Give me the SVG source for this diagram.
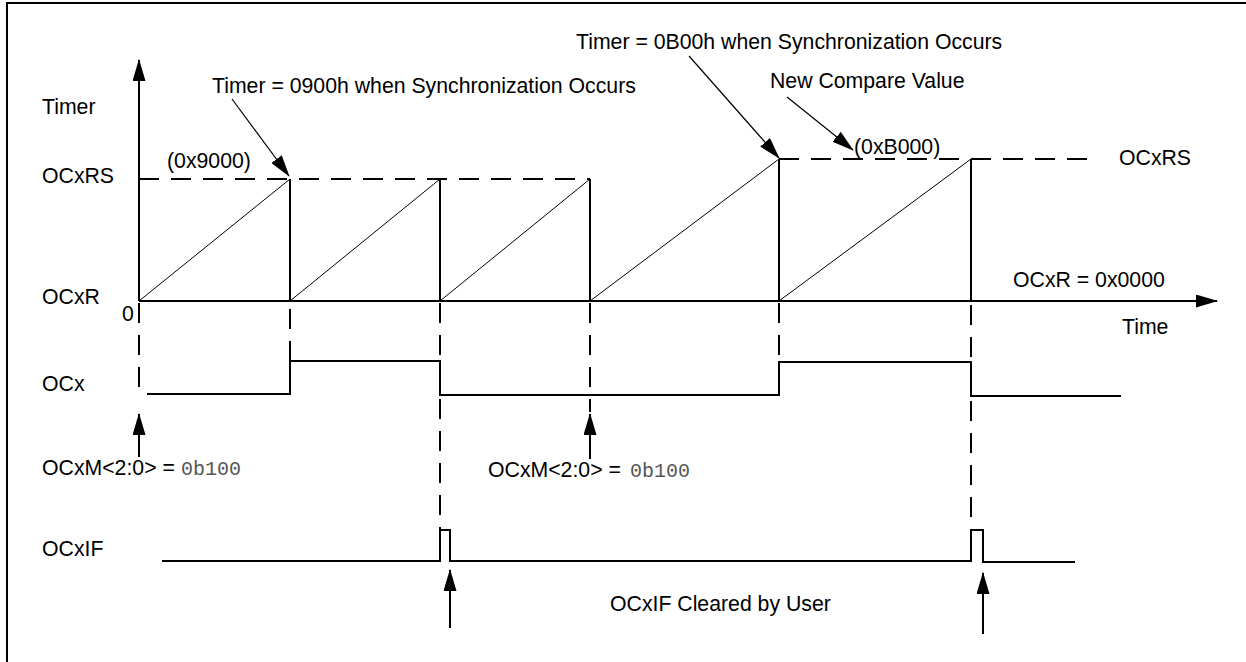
<svg xmlns="http://www.w3.org/2000/svg" width="1246" height="662" viewBox="0 0 1246 662">
<style>
text{font-family:"Liberation Sans",Arial,sans-serif;font-size:21.25px;fill:#000}
.mono{font-family:"Liberation Mono","Courier New",monospace;font-size:20px;fill:#555}
.thick{stroke:#000;stroke-width:2;fill:none}
.thin{stroke:#000;stroke-width:1;fill:none}
.dash{stroke:#000;stroke-width:2;fill:none;stroke-dasharray:20 12}
.arr{stroke:#000;stroke-width:1.2;fill:none;marker-end:url(#ah)}
.arr2{stroke:#000;stroke-width:2;fill:none;marker-end:url(#ah)}
</style>
<defs>
<marker id="ah" markerUnits="userSpaceOnUse" viewBox="0 0 22 13" refX="21" refY="6.5" markerWidth="22" markerHeight="13" orient="auto">
<path d="M0,0 L22,6.5 L0,13 z" fill="#000"/>
</marker>
</defs>
<rect width="1246" height="662" fill="#fff"/>
<g id="frame"><path class="thick" d="M7,662 V3 H1246" stroke-width="2.5"/></g>

<g id="axes">
<line class="arr2" x1="139" y1="301" x2="139" y2="60"/>
<line class="arr2" x1="139" y1="301" x2="1217" y2="301"/>
</g>

<g id="levels">
<path class="dash" d="M139,179 H590"/>
<path class="dash" d="M779,159 H1092"/>
</g>

<g id="timer-ramp">
<path class="thin" d="M139,301 L290,179 M290,301 L440,179 M440,301 L590,179 M590,301 L779,159 M779,301 L971,159"/>
<path class="thick" d="M290,179 V301 M440,179 V301 M590,179 V301 M779,159 V301 M971,159 V301"/>
</g>

<g id="connectors">
<path class="dash" d="M139,303 V390"/>
<path class="dash" d="M290,303 V361" stroke-dashoffset="-6"/>
<path class="dash" d="M440,303 V530"/>
<path class="dash" d="M590,303 V412"/>
<path class="dash" d="M779,303 V362"/>
<path class="dash" d="M971,303 V530" stroke-dashoffset="-2"/>
<line class="arr2" x1="139" y1="457" x2="139" y2="414"/>
<line class="arr2" x1="590" y1="459" x2="590" y2="414"/>
<line class="arr2" x1="450" y1="628" x2="450" y2="570"/>
<line class="arr2" x1="983" y1="634" x2="983" y2="573"/>
<line class="arr" x1="232" y1="99" x2="289" y2="176"/>
<line class="arr" x1="689" y1="56" x2="779" y2="158"/>
<line class="arr" x1="787" y1="97" x2="853" y2="150"/>
</g>

<g id="ocx-signal">
<path class="thick" d="M147,394 H290 V361 H440 V395 H779 V362 H971 V396 H1121"/>
</g>

<g id="ocxif-signal">
<path class="thick" d="M162,561 H440 V530 H450 V561 H971 V530 H983 V562 H1075"/>
</g>

<g id="labels">
<text x="42" y="114">Timer</text>
<text x="42" y="183">OCxRS</text>
<text x="42" y="304">OCxR</text>
<text x="122" y="321">0</text>
<text x="167" y="168">(0x9000)</text>
<text x="212" y="93">Timer = 0900h when Synchronization Occurs</text>
<text x="576" y="49">Timer = 0B00h when Synchronization Occurs</text>
<text x="770" y="88">New Compare Value</text>
<text x="854" y="154">(0xB000)</text>
<text x="1119" y="165">OCxRS</text>
<text x="1013" y="287">OCxR = 0x0000</text>
<text x="1122" y="334">Time</text>
<text x="42" y="391">OCx</text>
<text x="42" y="475">OCxM&lt;2:0&gt; = <tspan class="mono" x="181">0b100</tspan></text>
<text x="488" y="477">OCxM&lt;2:0&gt; = <tspan class="mono" x="630">0b100</tspan></text>
<text x="42" y="556">OCxIF</text>
<text x="610" y="611">OCxIF Cleared by User</text>
</g>
</svg>
